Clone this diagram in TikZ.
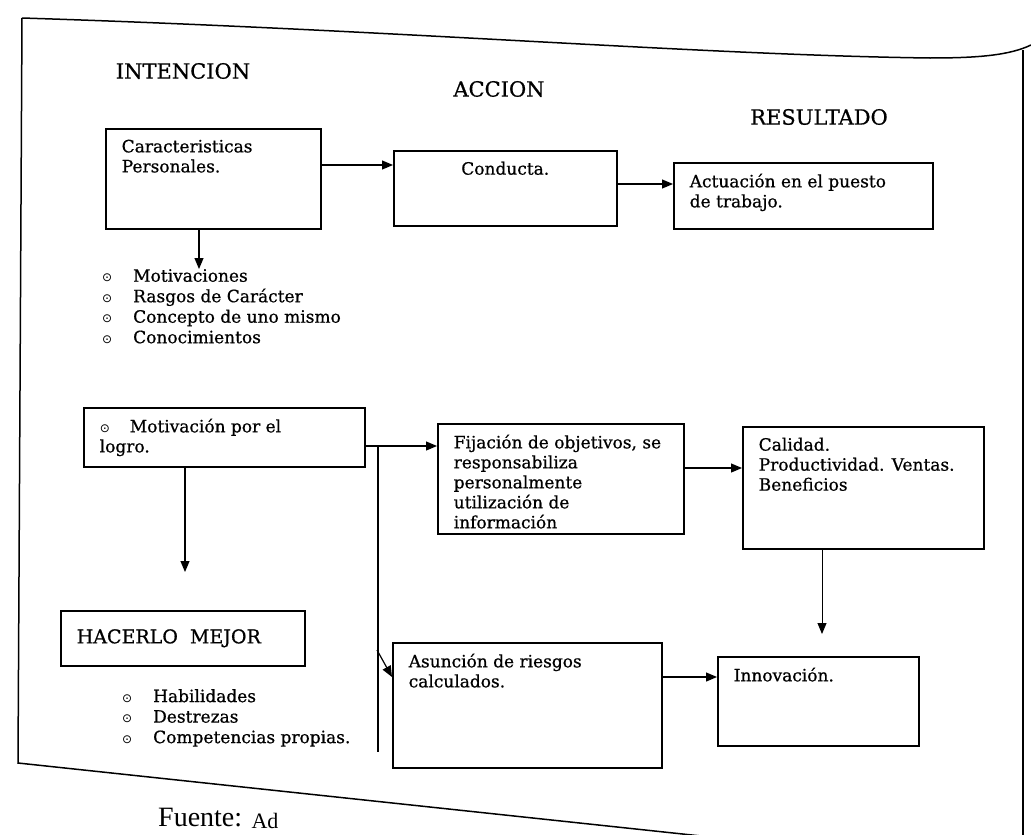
\documentclass[tikz,border=0pt]{standalone}
\usepackage{fontspec}
\setmainfont{DejaVu Serif}[FakeBold=0.7]
\newfontfamily\fuentefont{Liberation Serif}
\newfontfamily\bltfont{DejaVu Sans}
\usetikzlibrary{arrows.meta,positioning}
\newcommand{\blt}{\makebox[31pt][l]{\bltfont\fontsize{12}{12}\selectfont ⊙}}

\begin{document}
\begin{tikzpicture}[x=1pt,y=-1pt,>={Triangle[length=11pt,width=9pt]},
  every node/.style={font=\fontsize{17}{20}\selectfont},
  box/.style={draw,line width=1.5pt,anchor=north west,inner xsep=16pt,inner ysep=11pt},
  head/.style={font=\fontsize{21}{24}\selectfont},
  lista/.style={anchor=north west,align=left,inner sep=0pt,font=\fontsize{17}{20.5}\selectfont},
  arr/.style={->,line width=1.2pt}]
\useasboundingbox (0,0) rectangle (1031,835);
\clip (0,0) rectangle (1031,835);

% marco de la hoja
\draw[line width=1.5pt] (22,18) .. controls (400,30) and (700,55) .. (930,58) .. controls (980,58) and (1010,55) .. (1031,45);
\draw[line width=1.5pt] (1023,50) -- (1023,835);
\draw[line width=1.5pt] (22,18) -- (18,763) -- (720,838);

% titulos
\node[head] (intencion) at (183,71) {INTENCION};
\node[head] (accion) at (499,89) {ACCION};
\node[head] (resultado) at (819,117) {RESULTADO};

% fila de arriba
\node[box] (car) at (105,128) {\parbox[c][78pt][t]{183pt}{Caracteristicas\\Personales.}};
\node[box] (cond) at (393,150) {\parbox[c][53pt][t]{191pt}{\centering Conducta.}};
\node[box] (act) at (673,162) {\parbox[c][44pt][t]{227pt}{Actuación en el puesto\\de trabajo.}};
\node[lista] (rasgos) at (102,269) {\blt Motivaciones\\ \blt Rasgos de Carácter\\ \blt Concepto de uno mismo\\ \blt Conocimientos};

\draw[arr] (car.east |- 0,165) -- (cond.west |- 0,165);
\draw[arr] (cond.east |- 0,184) -- (act.west |- 0,184);
\draw[arr] (car.south -| 199,0) -- (rasgos.north -| 199,0);

% fila de abajo
\node[box] (mot) at (83,407) {\parbox[c][37pt][t]{249pt}{{\bltfont\fontsize{12}{12}\selectfont ⊙}\hspace{20pt}Motivación por el\\logro.}};
\node[box] (fij) at (437,423) {\parbox[c][88pt][t]{214pt}{Fijación de objetivos, se\\responsabiliza\\personalmente\\utilización de\\información}};
\node[box] (cal) at (742,426) {\parbox[c][100pt][t]{209pt}{Calidad.\\Productividad. Ventas.\\Beneficios}};
\node[box] (hac) at (60,610) {\parbox[c][33pt][c]{212pt}{\fontsize{19}{22}\selectfont HACERLO\ \ MEJOR}};
\node[box] (asu) at (392,642) {\parbox[c][103pt][t]{237pt}{Asunción de riesgos\\calculados.}};
\node[box] (inn) at (717,656) {\parbox[c][67pt][t]{169pt}{Innovación.}};
\node[lista] (hab) at (122,689) {\blt Habilidades\\ \blt Destrezas\\ \blt Competencias propias.};

\coordinate (j1) at (378,446);
\coordinate (j2) at (378,752);
\coordinate (j3) at (377,650);

\draw[arr] (mot.east |- j1) -- (fij.west |- j1);
\draw[line width=1.2pt] (j1) -- (j2);
\draw[arr] (j3) -- (asu.west |- 0,677);
\draw[arr,shorten >=38pt] (mot.south -| 185,0) -- (hac.north -| 185,0);
\draw[arr] (fij.east |- 0,468) -- (cal.west |- 0,468);
\draw[arr,line width=0.9pt,shorten >=22pt] (cal.south -| 822,0) -- (inn.north -| 822,0);
\draw[arr] (asu.east |- 0,677) -- (inn.west |- 0,677);

% pie
\node[anchor=base west,inner sep=0pt,font=\fuentefont\fontsize{28}{30}\selectfont] (fuente) at (158,826) {Fuente: \raisebox{-2pt}{\fontsize{22}{24}\selectfont Ad}};
\end{tikzpicture}
\end{document}
